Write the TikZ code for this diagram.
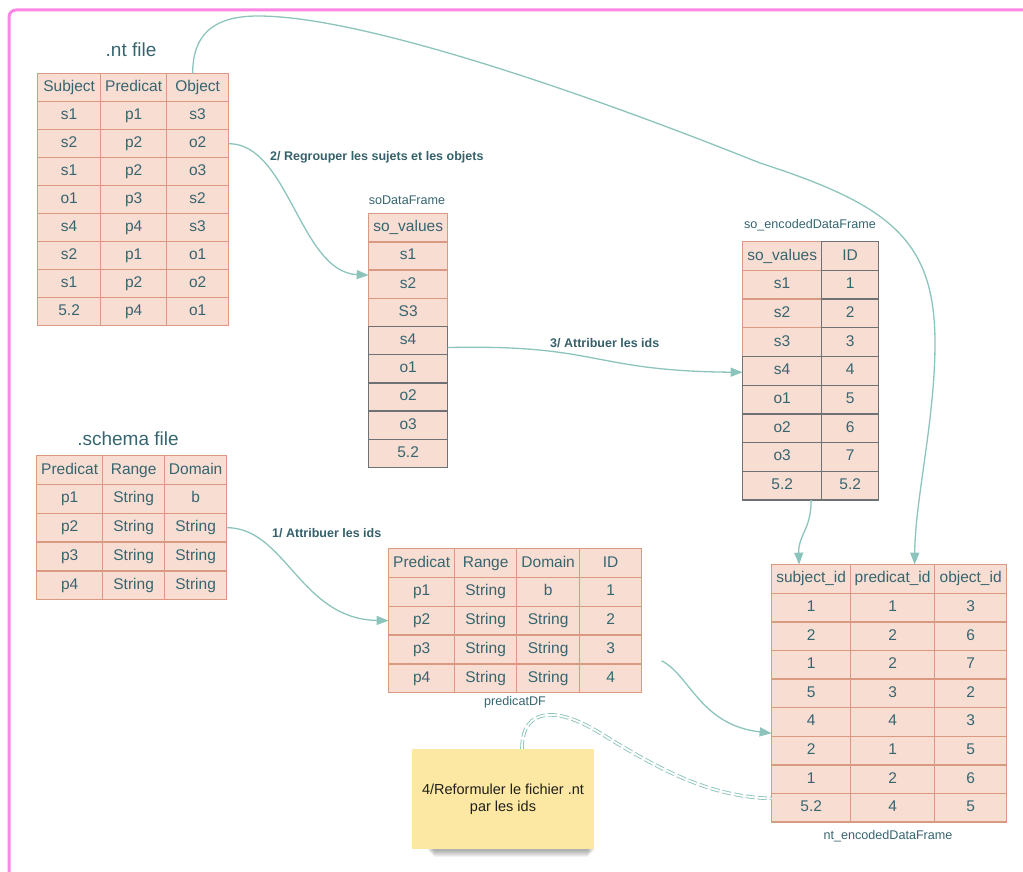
\documentclass[tikz,border=0pt]{standalone}
\usepackage{fontspec}
\setmainfont{Liberation Sans}
\usetikzlibrary{matrix,arrows.meta,backgrounds}

\definecolor{cellfill}{HTML}{F8DDD2}
\definecolor{cellline}{HTML}{DA9A82}
\definecolor{greyline}{HTML}{6F7275}
\definecolor{tabtext}{HTML}{366570}
\definecolor{lbltext}{HTML}{35606A}
\definecolor{connc}{HTML}{8CC4BC}
\definecolor{framepink}{HTML}{FB86E4}
\definecolor{notefill}{HTML}{FCE8A2}

\newcommand{\tabfont}{\fontsize{15.5}{18}\selectfont}
\newcommand{\bigttlfont}{\fontsize{19}{22}\selectfont}
\newcommand{\ttlfont}{\fontsize{12.6}{15}\selectfont}
\newcommand{\lblfont}{\fontsize{12.5}{15}\selectfont\bfseries}
\newcommand{\notefont}{\fontsize{14.5}{17.5}\selectfont}

\tikzset{
  cell/.style={draw=cellline, fill=cellfill, line width=1.3pt, inner sep=0pt,
    outer sep=0pt, text height=11pt, text depth=3pt, text=tabtext,
    font=\tabfont, anchor=center},
  datatable/.style={matrix of nodes, inner sep=0pt, outer sep=0pt,
    column sep=-1.3pt, row sep=-1.3pt, anchor=north west, nodes={cell}},
  greycell/.style={nodes={draw=greyline}},
  salmoncell/.style={nodes={draw=cellline}},
  conn/.style={draw=connc, line width=1.3pt, -{Triangle[length=12pt,width=9pt]}},
  dconn/.style={draw=connc, line width=0.9pt, double=white, double distance=1.8pt,
    dash pattern=on 9pt off 3pt},
  lbl/.style={font=\lblfont, text=lbltext, inner sep=0pt, anchor=west},
  ttl/.style={font=\ttlfont, text=tabtext, inner sep=0pt},
  bigttl/.style={font=\bigttlfont, text=tabtext, inner sep=0pt},
  note/.style={fill=notefill, minimum width=182pt, minimum height=100pt,
    align=center, font=\notefont, text=black!88, inner sep=2pt},
  frame/.style={draw=framepink, line width=3pt, rounded corners=7pt}
}

\begin{document}
\begin{tikzpicture}[x=1pt,y=-1pt]
\useasboundingbox (0,0) rectangle (1023,872);

% outer frame
\draw[frame] (1040,10) -- (9,10) -- (9,890);

% .nt file
\node[bigttl] (ntttl) at (131,50) {.nt file};
\matrix (nt) [datatable, nodes={minimum height=28pt},
  column 1/.style={nodes={minimum width=63pt}},
  column 2/.style={nodes={minimum width=66pt}},
  column 3/.style={nodes={minimum width=62pt}}] at (37,73) {
  Subject & Predicat & Object \\
  s1 & p1 & s3 \\
  s2 & p2 & o2 \\
  s1 & p2 & o3 \\
  o1 & p3 & s2 \\
  s4 & p4 & s3 \\
  s2 & p1 & o1 \\
  s1 & p2 & o2 \\
  5.2 & p4 & o1 \\
};

% soDataFrame
\node[ttl] (sottl) at (407,200) {soDataFrame};
\matrix (soDF) [datatable, nodes={minimum height=28.2pt, minimum width=79pt},
  row 5/.style={greycell}, row 6/.style={greycell}, row 7/.style={greycell},
  row 8/.style={greycell}, row 9/.style={greycell}] at (368,213) {
  so\_values \\
  s1 \\
  s2 \\
  S3 \\
  s4 \\
  o1 \\
  o2 \\
  o3 \\
  5.2 \\
};

% so_encodedDataFrame
\node[ttl] (soencttl) at (810,225) {so\_encodedDataFrame};
\matrix (soenc) [datatable, nodes={minimum height=28.7pt, draw=greyline},
  column 1/.style={nodes={minimum width=79pt}},
  column 2/.style={nodes={minimum width=57pt}},
  row 1 column 1/.style={salmoncell}, row 2 column 1/.style={salmoncell},
  row 3 column 1/.style={salmoncell}, row 4 column 1/.style={salmoncell}] at (742,241) {
  so\_values & ID \\
  s1 & 1 \\
  s2 & 2 \\
  s3 & 3 \\
  s4 & 4 \\
  o1 & 5 \\
  o2 & 6 \\
  o3 & 7 \\
  5.2 & 5.2 \\
};

% .schema file
\node[bigttl] (schttl) at (128,439) {.schema file};
\matrix (sch) [datatable, nodes={minimum height=28.8pt},
  column 1/.style={nodes={minimum width=66pt}},
  column 2/.style={nodes={minimum width=62pt}},
  column 3/.style={nodes={minimum width=62pt}}] at (36,455) {
  Predicat & Range & Domain \\
  p1 & String & b \\
  p2 & String & String \\
  p3 & String & String \\
  p4 & String & String \\
};

% predicatDF
\matrix (pred) [datatable, nodes={minimum height=28.8pt},
  column 1/.style={nodes={minimum width=66pt}},
  column 2/.style={nodes={minimum width=62pt}},
  column 3/.style={nodes={minimum width=63pt}},
  column 4/.style={nodes={minimum width=62pt}}] at (388,548) {
  Predicat & Range & Domain & ID \\
  p1 & String & b & 1 \\
  p2 & String & String & 2 \\
  p3 & String & String & 3 \\
  p4 & String & String & 4 \\
};
\node[ttl] (predttl) at (515,702) {predicatDF};

% nt_encodedDataFrame
\matrix (ntenc) [datatable, nodes={minimum height=28.6pt},
  column 1/.style={nodes={minimum width=79pt}},
  column 2/.style={nodes={minimum width=84pt}},
  column 3/.style={nodes={minimum width=72pt}}] at (771,564) {
  subject\_id & predicat\_id & object\_id \\
  1 & 1 & 3 \\
  2 & 2 & 6 \\
  1 & 2 & 7 \\
  5 & 3 & 2 \\
  4 & 4 & 3 \\
  2 & 1 & 5 \\
  1 & 2 & 6 \\
  5.2 & 4 & 5 \\
};
\node[ttl] (ntencttl) at (888,836) {nt\_encodedDataFrame};

% sticky note with its shadow
\node[note] (note) at (503,799) {4/Reformuler le fichier .nt\\par les ids};
\begin{scope}[on background layer]
  \foreach \k in {0,...,6}
    \fill[black, opacity=0.05]
      ([xshift=16pt+\k pt, yshift=2pt]note.south west) rectangle
      ([xshift=-\k pt, yshift=-2pt-\k pt]note.south east);
\end{scope}

% step labels
\node[lbl] (lbl2) at (270,157) {2/ Regrouper les sujets et les objets};
\node[lbl] (lbl3) at (550,343) {3/ Attribuer les ids};
\node[lbl] (lbl1) at (272,533) {1/ Attribuer les ids};

% connectors
\draw[conn] ([xshift=-5pt]nt-1-3.north) .. controls +(0,-38) and (212,16) .. (258,16)
  .. controls (361,16) and (580,91) .. (760,163)
  .. controls (890,205) and (935,240) .. (935,343)
  .. controls (935,420) and (915,500) .. ([xshift=22pt]ntenc-1-2.north);

\draw[conn] (nt-3-3.east) .. controls +(60,0) and (300,272) .. ([yshift=9pt]soDF-3-1.west);

\draw[conn] ([yshift=-7pt]soDF-5-1.east) .. controls (600,344) and (590,371)
  .. ([yshift=-1.5pt]soenc-5-1.west);

\draw[conn] (sch-3-3.east) .. controls +(59,0) and (300,619) .. (pred-3-1.west);

\draw[conn] ([xshift=29pt]soenc-9-1.south) .. controls +(0,30) and (798,535)
  .. ([xshift=-12pt]ntenc-1-1.north);

\coordinate (predout) at ([shift={(20pt,3pt)}]pred-5-4.north east);
\draw[conn] (predout) .. controls (690,675) and (700,725) .. ([yshift=3pt]ntenc-7-1.north west);

\draw[dconn] ([xshift=19pt]note.north) .. controls (522,705) and (560,708) .. (600,733)
  .. controls (660,770) and (710,797) .. ([yshift=-5pt]ntenc-9-1.north west);

\end{tikzpicture}
\end{document}
